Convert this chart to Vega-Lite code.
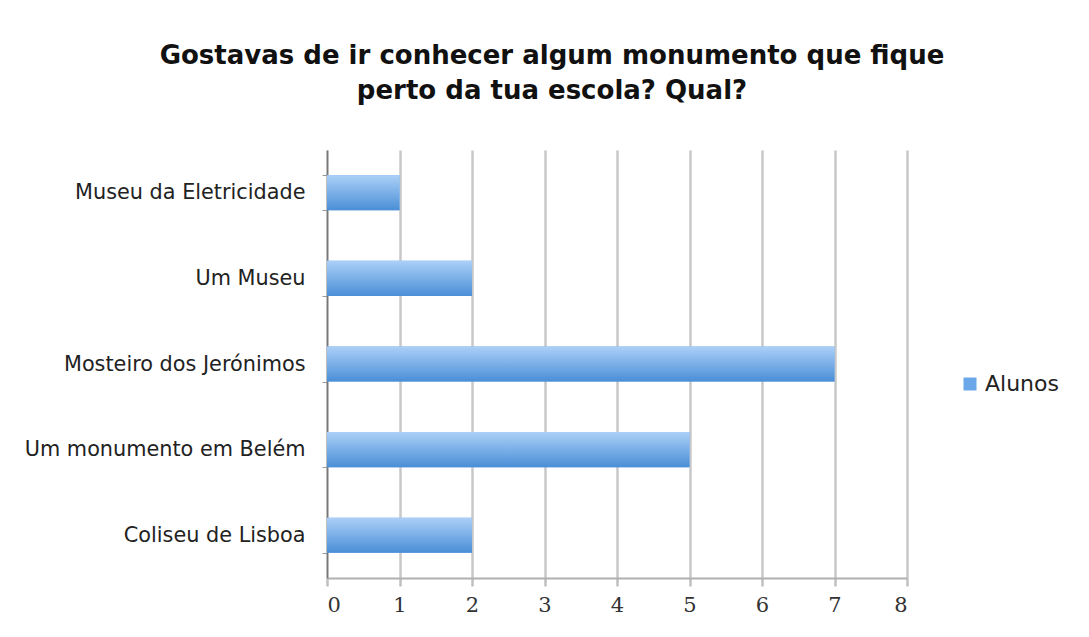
{
  "$schema": "https://vega.github.io/schema/vega-lite/v6.json",
  "width": 580,
  "height": 428,
  "autosize": "none",
  "padding": {"left": 327, "top": 150, "right": 182, "bottom": 59},
  "background": "white",
  "config": {"view": {"stroke": null}},
  "title": {
    "text": ["Gostavas de ir conhecer algum monumento que fique", "perto da tua escola? Qual?"],
    "font": "DejaVu Sans",
    "fontSize": 26,
    "fontWeight": "bold",
    "color": "#111111",
    "anchor": "middle",
    "dx": -65,
    "offset": 35,
    "lineHeight": 35
  },
  "data": {
    "values": [
      {"monumento": "Museu da Eletricidade", "alunos": 1, "serie": "Alunos"},
      {"monumento": "Um Museu", "alunos": 2, "serie": "Alunos"},
      {"monumento": "Mosteiro dos Jerónimos", "alunos": 7, "serie": "Alunos"},
      {"monumento": "Um monumento em Belém", "alunos": 5, "serie": "Alunos"},
      {"monumento": "Coliseu de Lisboa", "alunos": 2, "serie": "Alunos"}
    ]
  },
  "encoding": {
    "y": {
      "field": "monumento",
      "type": "nominal",
      "sort": ["Museu da Eletricidade", "Um Museu", "Mosteiro dos Jerónimos", "Um monumento em Belém", "Coliseu de Lisboa"],
      "scale": {"paddingInner": 0.59, "paddingOuter": 0.295},
      "axis": {
        "title": null,
        "domainColor": "#777777",
        "domainWidth": 1.5,
        "tickBand": "extent",
        "tickSize": 5,
        "tickColor": "#999999",
        "labelFont": "DejaVu Sans",
        "labelFontSize": 20.8,
        "labelColor": "#222222",
        "labelPadding": 17,
        "labelLimit": 320,
        "grid": false
      }
    },
    "x": {
      "field": "alunos",
      "type": "quantitative",
      "scale": {"domain": [0, 8], "nice": false},
      "axis": {
        "title": null,
        "values": [0, 1, 2, 3, 4, 5, 6, 7, 8],
        "grid": true,
        "gridColor": "#c8c8c8",
        "gridWidth": 2.5,
        "domainColor": "#b0b0b0",
        "domainWidth": 2,
        "tickColor": "#c0c0c0",
        "tickSize": 8,
        "tickWidth": 2.5,
        "labelFont": "DejaVu Serif",
        "labelFontSize": 21,
        "labelColor": "#333333",
        "labelPadding": 8
      }
    }
  },
  "layer": [
    {
      "mark": {"type": "bar", "color": "#6aa8ea"},
      "encoding": {
        "color": {
          "field": "serie",
          "type": "nominal",
          "scale": {"range": ["#6aa8ea"]},
          "legend": {
            "title": null,
            "orient": "none",
            "legendX": 632,
            "legendY": 223,
            "symbolType": "square",
            "symbolSize": 169,
            "labelFont": "DejaVu Sans",
            "labelFontSize": 22,
            "labelColor": "#222222"
          }
        }
      }
    },
    {
      "mark": {
        "type": "bar",
        "color": {
          "gradient": "linear",
          "x1": 0, "y1": 0, "x2": 0, "y2": 1,
          "stops": [
            {"offset": 0, "color": "#abd0f7"},
            {"offset": 1, "color": "#4a8ed7"}
          ]
        }
      }
    }
  ]
}
